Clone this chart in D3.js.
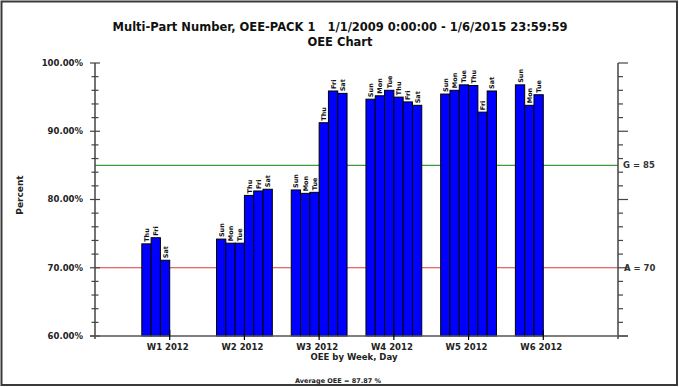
<!DOCTYPE html>
<html>
<head>
<meta charset="utf-8">
<script src="https://cdn.jsdelivr.net/npm/d3@7/dist/d3.min.js"></script>
<style>
  html, body { margin: 0; padding: 0; background: #fff; }
  svg { display: block; }
  text { font-family: "DejaVu Sans", Verdana, sans-serif; font-weight: bold; }
</style>
</head>
<body>
<svg id="chart" width="679" height="387"></svg>
<script>
// ---- data ----
const weeks = ["W1 2012", "W2 2012", "W3 2012", "W4 2012", "W5 2012", "W6 2012"];
const dayLabels = [
  ["Thu", "Fri", "Sat"],
  ["Sun", "Mon", "Tue", "Thu", "Fri", "Sat"],
  ["Sun", "Mon", "Tue", "Thu", "Fri", "Sat"],
  ["Sun", "Mon", "Tue", "Thu", "Fri", "Sat"],
  ["Sun", "Mon", "Tue", "Thu", "Fri", "Sat"],
  ["Sun", "Mon", "Tue"]
];
const oeeValues = [
  [73.5, 74.4, 71.1],
  [74.2, 73.6, 73.6, 80.6, 81.25, 81.5],
  [81.4, 80.9, 81.05, 91.25, 95.9, 95.55],
  [94.7, 95.2, 96.0, 95.0, 94.3, 93.8],
  [95.45, 96.0, 96.8, 96.7, 92.8, 95.9],
  [96.8, 93.8, 95.35]
];
const yTicks = [60, 70, 80, 90, 100];
const goalValue = 85;
const alarmValue = 70;
const titleLine1 = "Multi-Part Number, OEE-PACK 1   1/1/2009 0:00:00 - 1/6/2015 23:59:59";
const titleLine2 = "OEE Chart";
const xTitle = "OEE by Week, Day";
const yTitle = "Percent";
const averageText = "Average OEE = 87.87 %";

// ---- layout ----
const svg = d3.select("#chart");
const pL = 95, pR = 618, pT = 63, pB = 336;

const x = d3.scalePoint().domain(weeks).range([pL, pR]).padding(1);
const slot = d3.scaleBand().domain(d3.range(6)).range([-27.9, 27.9]);
const y = d3.scaleLinear().domain([60, 100]).range([pB, pT]);

// frame
svg.append("rect").attr("x", 1.5).attr("y", 1.5).attr("width", 675.5).attr("height", 383.5)
  .attr("fill", "none").attr("stroke", "#3a3a3a").attr("stroke-width", 2);

// titles
svg.append("text").attr("x", 340).attr("y", 31).attr("text-anchor", "middle")
  .attr("font-size", 11.5).attr("fill", "#111").style("white-space", "pre").text(titleLine1);
svg.append("text").attr("x", 340).attr("y", 46).attr("text-anchor", "middle")
  .attr("font-size", 11.5).attr("fill", "#111").text(titleLine2);

// reference lines (behind bars)
svg.append("line").attr("x1", pL).attr("x2", pR).attr("y1", y(goalValue)).attr("y2", y(goalValue))
  .attr("stroke", "#3c9c3c").attr("stroke-width", 1.2);
svg.append("line").attr("x1", pL).attr("x2", pR).attr("y1", y(alarmValue)).attr("y2", y(alarmValue))
  .attr("stroke", "#e03a3a").attr("stroke-width", 1.2);

// bars
const flat = [];
weeks.forEach((w, wi) => {
  oeeValues[wi].forEach((v, i) => flat.push({ week: w, i: i, value: v, day: dayLabels[wi][i] }));
});
const bw = slot.bandwidth();
svg.append("g").selectAll("rect").data(flat).join("rect")
  .attr("x", d => x(d.week) + slot(d.i))
  .attr("y", d => y(d.value))
  .attr("width", bw)
  .attr("height", d => y(60) - y(d.value))
  .attr("fill", "#0000ff").attr("stroke", "#000").attr("stroke-width", 1);

svg.append("g").selectAll("text").data(flat).join("text")
  .attr("transform", d => `translate(${x(d.week) + slot(d.i) + bw / 2 + 2.5},${y(d.value) - 2}) rotate(-90)`)
  .attr("font-size", 6.5).attr("fill", "#111").text(d => d.day);

// left axis
const minorTicks = d3.range(60, 100.01, 2);
const gl = svg.append("g").attr("transform", `translate(${pL},0)`);
gl.append("line").attr("y1", pT).attr("y2", pB + 3).attr("stroke", "#444").attr("stroke-width", 1.5);
gl.selectAll("line.t").data(minorTicks).join("line").attr("class", "t")
  .attr("x1", d => yTicks.includes(d) ? -5 : -3.5).attr("x2", d => yTicks.includes(d) ? 5 : 3.5)
  .attr("y1", d => y(d)).attr("y2", d => y(d)).attr("stroke", "#444").attr("stroke-width", 1.2);
gl.selectAll("text").data(yTicks).join("text")
  .attr("x", -12).attr("y", d => y(d)).attr("dy", "0.35em").attr("text-anchor", "end")
  .attr("font-size", 8.5).attr("fill", "#222").text(d => d3.format(".2f")(d) + "%");

// right axis
const gr = svg.append("g").attr("transform", `translate(${pR},0)`);
gr.append("line").attr("y1", pT).attr("y2", pB + 3).attr("stroke", "#444").attr("stroke-width", 1.5);
gr.selectAll("line.t").data(minorTicks).join("line").attr("class", "t")
  .attr("x1", 0).attr("x2", d => yTicks.includes(d) ? 10 : 5)
  .attr("y1", d => y(d)).attr("y2", d => y(d)).attr("stroke", "#444").attr("stroke-width", 1.2);
gr.append("text").attr("x", 5).attr("y", y(goalValue)).attr("dy", "0.35em")
  .attr("font-size", 8.5).attr("fill", "#333").text("G = " + goalValue);
gr.append("text").attr("x", 6).attr("y", y(alarmValue)).attr("dy", "0.35em")
  .attr("font-size", 8.5).attr("fill", "#333").text("A = " + alarmValue);

// bottom axis
const gb = svg.append("g");
gb.append("line").attr("x1", pL - 5).attr("x2", pR + 10).attr("y1", pB).attr("y2", pB)
  .attr("stroke", "#555").attr("stroke-width", 1.5);
gb.selectAll("line.t").data(weeks).join("line").attr("class", "t")
  .attr("x1", d => x(d)).attr("x2", d => x(d)).attr("y1", pB - 6).attr("y2", pB + 4)
  .attr("stroke", "#000").attr("stroke-width", 1.2);
gb.selectAll("text").data(weeks).join("text")
  .attr("x", d => x(d) - 2).attr("y", pB + 14).attr("text-anchor", "middle")
  .attr("font-size", 8.5).attr("fill", "#222").text(d => d);

// axis titles
svg.append("text").attr("x", 354).attr("y", 360).attr("text-anchor", "middle")
  .attr("font-size", 8.5).attr("fill", "#222").text(xTitle);
svg.append("text").attr("transform", `translate(23,195) rotate(-90)`).attr("text-anchor", "middle")
  .attr("font-size", 9).attr("fill", "#222").text(yTitle);
svg.append("text").attr("x", 338).attr("y", 383).attr("text-anchor", "middle")
  .attr("font-size", 6.5).attr("fill", "#222").text(averageText);
</script>
</body>
</html>
